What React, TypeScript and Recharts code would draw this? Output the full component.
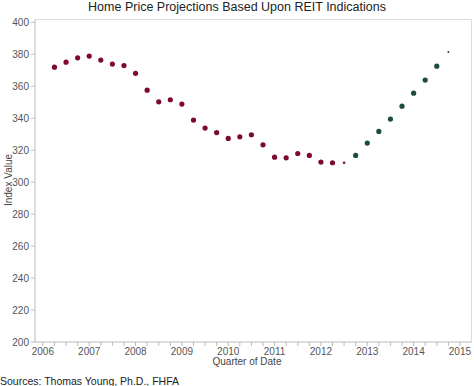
import React from 'react'
import { ScatterChart, Scatter, XAxis, YAxis } from 'recharts'

// quarterly index values, first point is 2006.25
const startYear = 2006.25
const historyValues = [
  371.9, 375.0, 377.7, 378.8, 376.3, 373.8, 372.9, 368.0, 357.5, 350.2,
  351.5, 348.8, 338.8, 333.8, 331.0, 327.3, 328.3, 329.6, 323.3, 315.6,
  315.2, 317.9, 316.7, 312.5, 312.1, 312.1,
]
const projectionValues = [316.7, 324.4, 331.7, 339.4, 347.5, 355.6, 363.8, 372.5, 381.4]
const yearTicks = [2006, 2007, 2008, 2009, 2010, 2011, 2012, 2013, 2014, 2015]
const valueTicks = [200, 220, 240, 260, 280, 300, 320, 340, 360, 380, 400]

const historyData = historyValues.map((v, i) => ({ x: startYear + i * 0.25, y: v }))
const projectionData = projectionValues.map((v, i) => ({
  x: startYear + (historyValues.length + i) * 0.25,
  y: v,
}))

// year ticks plus the three quarter marks between them
const quarterTicks: number[] = []
yearTicks.forEach((y, i) => {
  quarterTicks.push(y)
  if (i < yearTicks.length - 1) quarterTicks.push(y + 0.25, y + 0.5, y + 0.75)
})

const font = '"Liberation Sans", Arial, sans-serif'

function makeDot(color: string, lastIndex: number, lastR: number) {
  return (props: any) => {
    const { cx, cy, index } = props
    const r = index === lastIndex ? lastR : 2.6
    return <circle cx={cx} cy={cy} r={r} fill={color} />
  }
}

function XTick(props: any) {
  const { x, y, payload } = props
  const major = Number.isInteger(payload.value)
  return (
    <g>
      <line x1={x} x2={x} y1={y - 8} y2={y - 4} stroke="#bbb" />
      {major && (
        <text x={x} y={y + 5} textAnchor="middle" fontSize={10} fill="#555" fontFamily={font}>
          {payload.value}
        </text>
      )}
    </g>
  )
}

export default function App() {
  return (
    <div style={{ position: 'absolute', left: 0, top: 0, width: 474, height: 386, background: '#fff', fontFamily: font }}>
      <div style={{ position: 'absolute', left: 0, top: 0, width: 474, textAlign: 'center', fontSize: 12.5, color: '#222' }}>
        Home Price Projections Based Upon REIT Indications
      </div>
      <ScatterChart width={474} height={386} margin={{ top: 19, right: 2, bottom: 14, left: 0 }}>
        <XAxis
          type="number"
          dataKey="x"
          domain={[2005.83, 2015.26]}
          ticks={quarterTicks}
          interval={0}
          height={30}
          tick={<XTick />}
          tickLine={false}
          axisLine={{ stroke: '#bbb' }}
          allowDataOverflow
        />
        <YAxis
          type="number"
          dataKey="y"
          domain={[200, 402]}
          ticks={valueTicks}
          interval={0}
          width={35}
          tickSize={4}
          tickLine={{ stroke: '#bbb' }}
          axisLine={{ stroke: '#bbb' }}
          tick={{ fontSize: 10, fill: '#555', fontFamily: font }}
          allowDataOverflow
        />
        <Scatter
          data={historyData}
          isAnimationActive={false}
          shape={makeDot('#7d0a2c', historyValues.length - 1, 1.3)}
        />
        <Scatter
          data={projectionData}
          isAnimationActive={false}
          shape={makeDot('#1e4d35', projectionValues.length - 1, 1)}
        />
      </ScatterChart>
      <div style={{ position: 'absolute', left: 35, top: 19, width: 436, height: 322, borderTop: '1px solid #ddd', borderRight: '1px solid #ddd', pointerEvents: 'none' }} />
      <div
        style={{
          position: 'absolute',
          left: 8,
          top: 180,
          transform: 'translate(-50%, -50%) rotate(-90deg)',
          fontSize: 10,
          color: '#444',
          whiteSpace: 'nowrap',
        }}
      >
        Index Value
      </div>
      <div style={{ position: 'absolute', left: 0, width: 494, top: 356, textAlign: 'center', fontSize: 10, color: '#444' }}>
        Quarter of Date
      </div>
      <div style={{ position: 'absolute', left: 0, top: 375, fontSize: 10.5, color: '#222' }}>
        Sources: Thomas Young, Ph.D., FHFA
      </div>
    </div>
  )
}
